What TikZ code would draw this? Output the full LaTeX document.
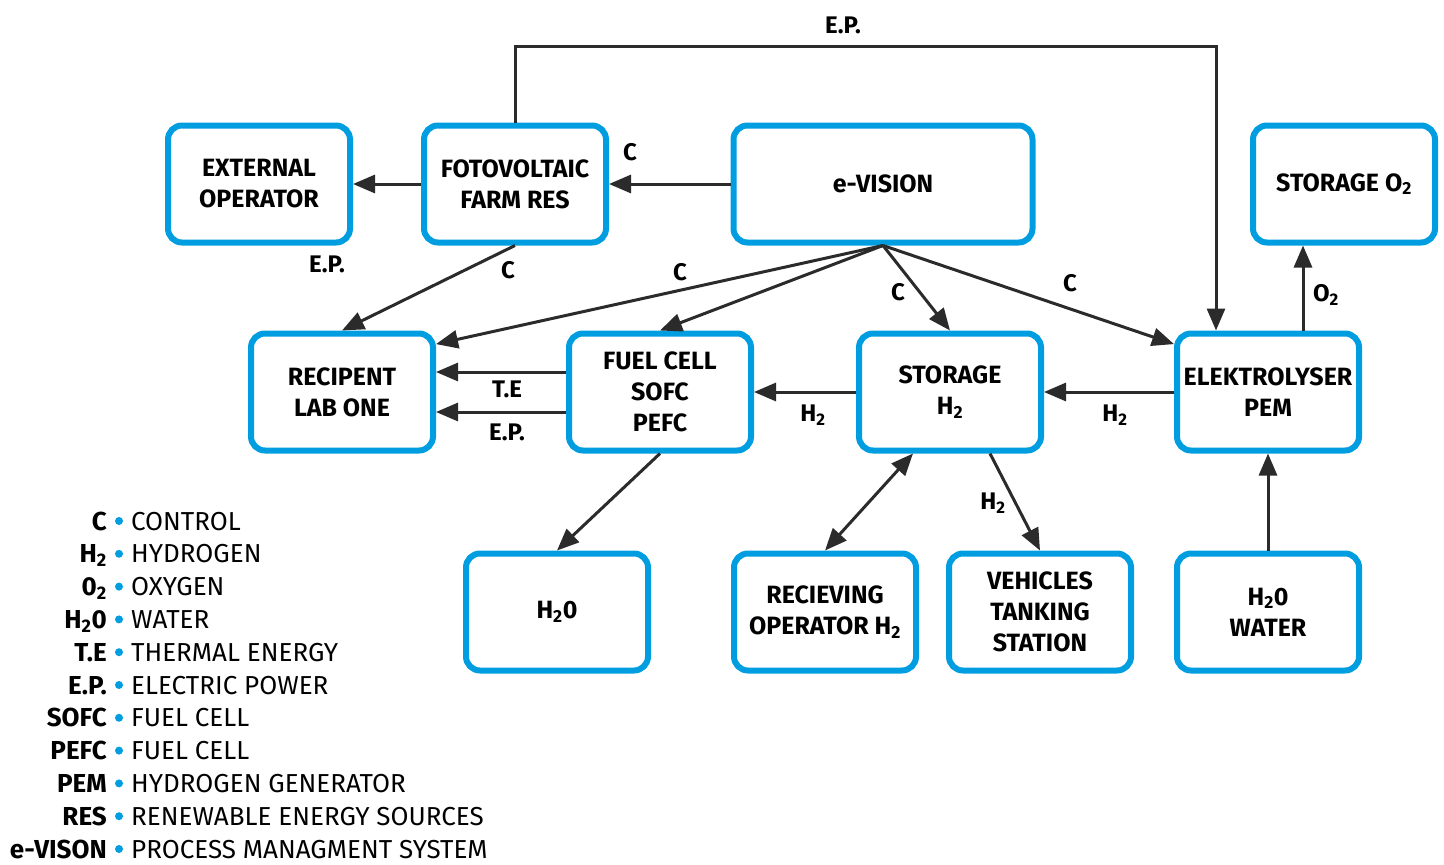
\documentclass[tikz,border=0pt]{standalone}
\usepackage{fontspec}
\setmainfont{Fira Sans}
\usetikzlibrary{arrows.meta}

\definecolor{boxblue}{RGB}{0,158,224}
\definecolor{linegray}{RGB}{43,43,43}

\begin{document}
\begin{tikzpicture}[x=1pt,y=-1pt,
  box/.style={draw=boxblue, line width=6pt, rounded corners=14pt, fill=white,
    minimum width=182pt, minimum height=117pt, inner sep=0pt, align=center,
    font=\bfseries\fontsize{25}{31}\selectfont},
  flow/.style={draw=linegray, line width=3pt, -{Triangle[length=22pt,width=18pt]}},
  lbl/.style={font=\bfseries\fontsize{24}{28}\selectfont},
  key/.style={anchor=base east, inner sep=0pt, font=\bfseries\fontsize{26}{30}\selectfont},
  desc/.style={anchor=base west, inner sep=0pt, font=\fontsize{26}{30}\selectfont}]
  \useasboundingbox (0,0) rectangle (1444,865);

  \node[box] (EO) at (259,184) {EXTERNAL\\OPERATOR};
  \node[box] (FV) at (515,184) {FOTOVOLTAIC\\FARM RES};
  \node[box, minimum width=299pt] (EV) at (883,184) {e-VISION};
  \node[box] (SO) at (1344,184) {STORAGE O\textsubscript{2}};

  \node[box] (RL) at (342,392) {RECIPENT\\LAB ONE};
  \node[box] (FC) at (660,392) {FUEL CELL\\SOFC\\PEFC};
  \node[box] (SH) at (950,392) {STORAGE\\H\textsubscript{2}};
  \node[box] (EL) at (1268,392) {ELEKTROLYSER\\PEM};

  \node[box] (HO) at (557,612) {H\textsubscript{2}0};
  \node[box] (RO) at (825,612) {RECIEVING\\OPERATOR H\textsubscript{2}};
  \node[box] (VT) at (1040,612) {VEHICLES\\TANKING\\STATION};
  \node[box] (HW) at (1268,612) {H\textsubscript{2}0\\WATER};

  \coordinate (top) at (843,46);

  \draw[flow] (FV.north) -- (FV.north |- top) -| ([xshift=-52pt]EL.north);
  \draw[flow] (FV.west) -- (EO.east);
  \draw[flow] (EV.west) -- (FV.east);
  \draw[flow] (FV.south) -- (RL.north);
  \draw[flow] (EV.south) -- (RL.27);
  \draw[flow] (EV.south) -- (FC.north);
  \draw[flow] (EV.south) -- (SH.north);
  \draw[flow] (EV.south) -- (EL.153);
  \draw[flow] ([yshift=20pt]FC.west) -- ([yshift=20pt]RL.east);
  \draw[flow] ([yshift=-20pt]FC.west) -- ([yshift=-20pt]RL.east);
  \draw[flow] (SH.west) -- (FC.east);
  \draw[flow] (EL.west) -- (SH.east);
  \draw[flow] ([xshift=35pt]EL.north) -- ([xshift=35pt]EL.north |- SO.south);
  \draw[flow] (FC.south) -- (HO.north);
  \draw[flow, {Triangle[length=22pt,width=18pt]}-{Triangle[length=22pt,width=18pt]}]
    ([xshift=-37pt]SH.south) -- (RO.north);
  \draw[flow] ([xshift=40pt]SH.south) -- (VT.north);
  \draw[flow] (HW.north) -- (EL.south);

  \node[lbl] (l1) at (843,25) {E.P.};
  \node[lbl] (l2) at (327,264) {E.P.};
  \node[lbl] (l3) at (630,152) {C};
  \node[lbl] (l4) at (508,270) {C};
  \node[lbl] (l5) at (680,272) {C};
  \node[lbl] (l6) at (898,292) {C};
  \node[lbl] (l7) at (1070,283) {C};
  \node[lbl] (l8) at (507,389) {T.E};
  \node[lbl] (l9) at (507,432) {E.P.};
  \node[lbl] (l10) at (813,415) {H\textsubscript{2}};
  \node[lbl] (l11) at (1115,415) {H\textsubscript{2}};
  \node[lbl] (l12) at (1326,295) {O\textsubscript{2}};
  \node[lbl] (l13) at (993,503) {H\textsubscript{2}};

  \foreach \k/\v [count=\i] in {C/CONTROL, H\textsubscript{2}/HYDROGEN,
      0\textsubscript{2}/OXYGEN, H\textsubscript{2}0/WATER, T.E/THERMAL ENERGY,
      E.P./ELECTRIC POWER, SOFC/FUEL CELL, PEFC/FUEL CELL,
      PEM/HYDROGEN GENERATOR, RES/RENEWABLE ENERGY SOURCES,
      e-VISON/PROCESS MANAGMENT SYSTEM} {
    \node[key] (k\i) at (107,{530+32.8*(\i-1)}) {\k};
    \fill[boxblue] (119,{521+32.8*(\i-1)}) circle (4pt);
    \node[desc] (d\i) at (131,{530+32.8*(\i-1)}) {\v};
  }
\end{tikzpicture}
\end{document}
